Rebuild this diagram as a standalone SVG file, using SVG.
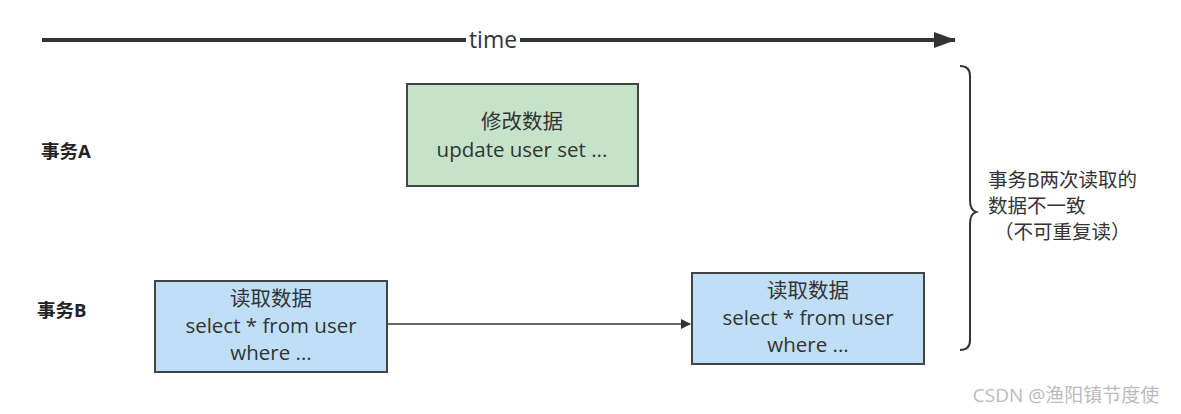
<svg xmlns="http://www.w3.org/2000/svg" width="1181" height="414" viewBox="0 0 1181 414">
<style>
text{font-family:"Open Sans","Noto Sans CJK SC",sans-serif;fill:#333;font-size:20.5px;text-anchor:middle}
.b{fill:#bfdff7;stroke:#444;stroke-width:2}
.g{fill:#c5e3c8;stroke:#444;stroke-width:2}
.lbl{font-weight:bold;font-size:18.5px;text-anchor:start;fill:#222}
.c{stroke:#333;fill:none}
</style>
<defs>
<marker id="ah" markerWidth="10" markerHeight="10" refX="9" refY="5" orient="auto" markerUnits="userSpaceOnUse"><path d="M0,0 L10,5 L0,10 Z" fill="#333"/></marker>
<marker id="ah2" markerWidth="22" markerHeight="16" refX="21" refY="8" orient="auto" markerUnits="userSpaceOnUse"><path d="M0,0 L22,8 L0,16 Z" fill="#333"/></marker>
</defs>
<g id="connectors">
<line class="c" x1="42" y1="40" x2="466" y2="40" stroke-width="4"/>
<line class="c" x1="520" y1="40" x2="955" y2="40" stroke-width="4" marker-end="url(#ah2)"/>
<text x="493" y="48" style="font-size:23px">time</text>
<line class="c" x1="388" y1="324" x2="690" y2="324" stroke-width="1.5" marker-end="url(#ah)"/>
<path class="c" stroke-width="2" d="M960,66 Q970,66 970,76 L970,200 Q970,210 976,212 Q970,214 970,224 L970,340 Q970,350 960,350"/>
</g>
<g id="labelA"><text class="lbl" x="41" y="158">事务A</text></g>
<g id="labelB"><text class="lbl" x="37" y="317">事务B</text></g>
<g id="nodeA"><rect class="g" x="407" y="84" width="231" height="102"/><text x="522" y="129">修改数据</text><text x="522" y="157">update user set ...</text></g>
<g id="nodeB1"><rect class="b" x="155" y="281" width="232" height="91"/><text x="271" y="306">读取数据</text><text x="271" y="333">select * from user</text><text x="271" y="360">where ...</text></g>
<g id="nodeB2"><rect class="b" x="692" y="273" width="232" height="91"/><text x="808" y="298">读取数据</text><text x="808" y="325">select * from user</text><text x="808" y="352">where ...</text></g>
<g id="note"><text x="988" y="187" style="text-anchor:start;font-size:19.5px">事务B两次读取的</text><text x="988" y="213" style="text-anchor:start;font-size:19.5px">数据不一致</text><text x="994" y="239" style="text-anchor:start;font-size:19.5px">（不可重复读）</text></g>
<text x="1066" y="402" style="font-size:19px;fill:#bbb">CSDN @渔阳镇节度使</text>
</svg>
